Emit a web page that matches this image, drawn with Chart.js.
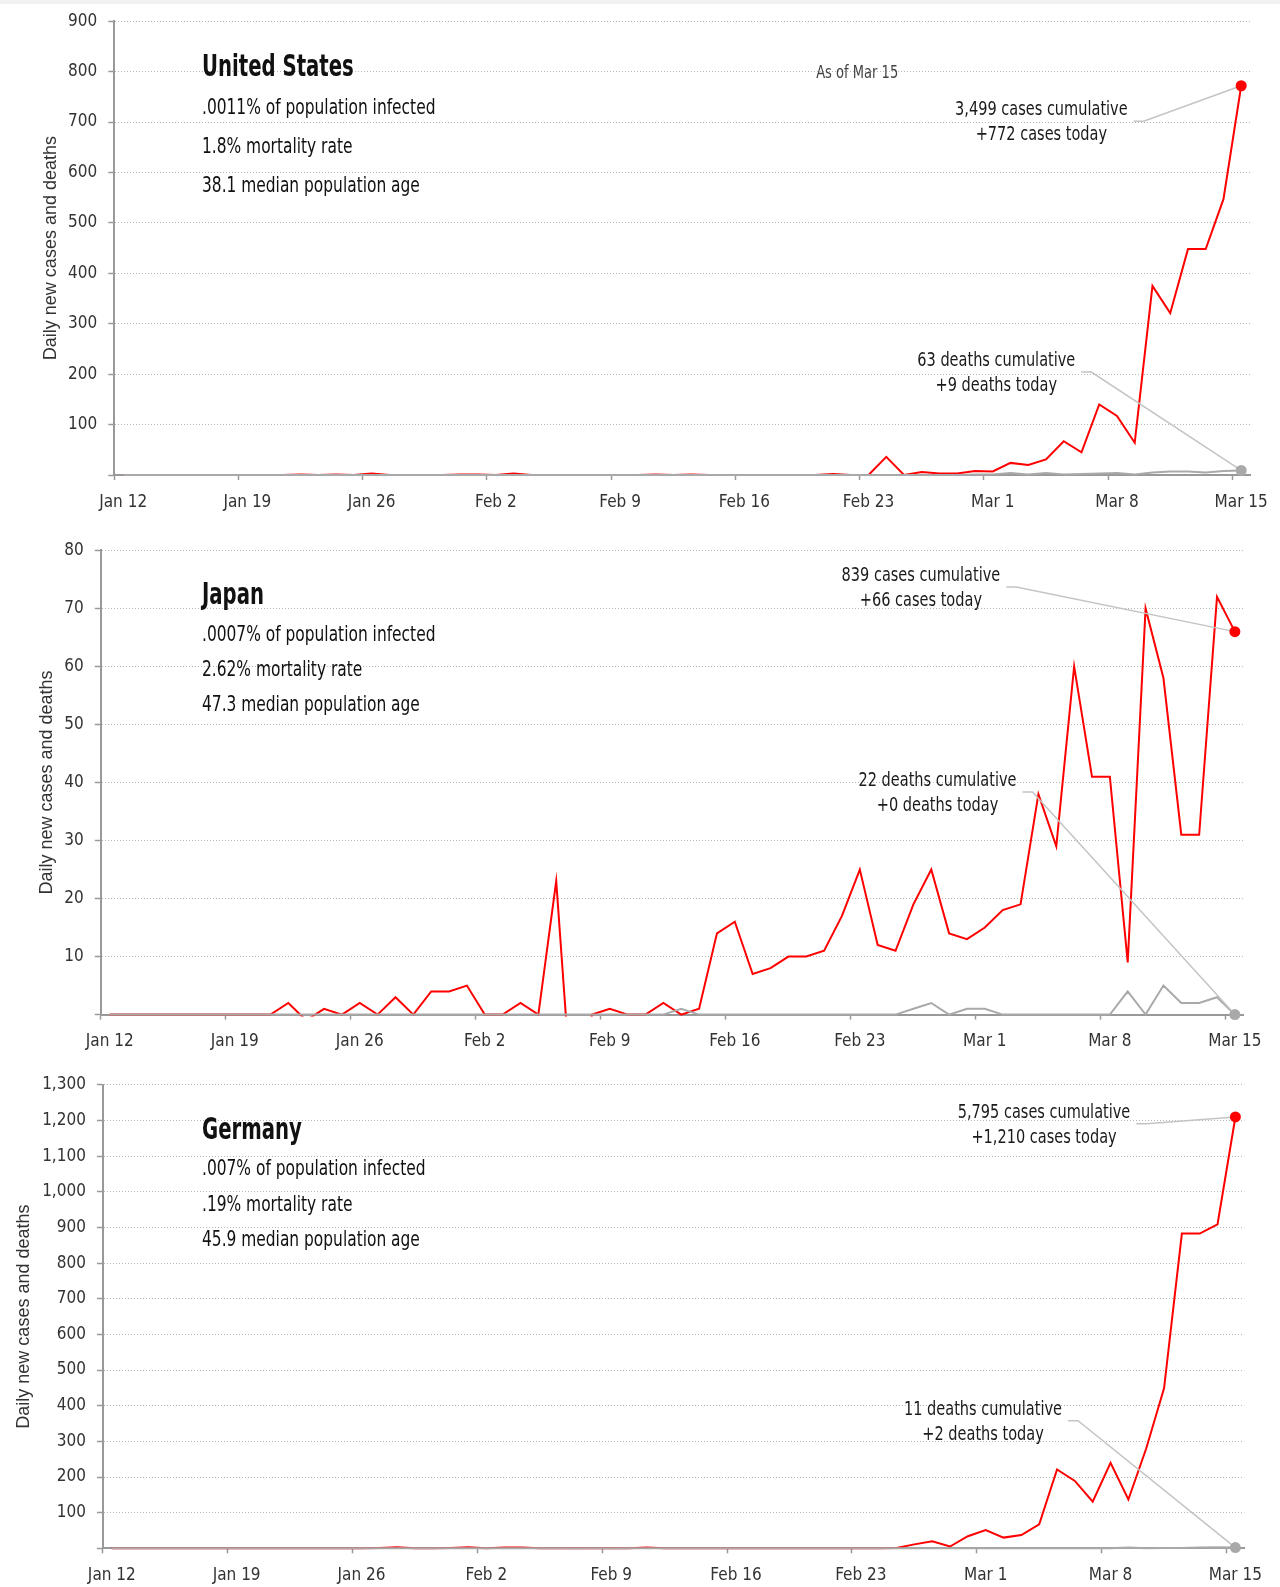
<!DOCTYPE html>
<html>
<head>
<meta charset="utf-8">
<title>Daily new cases and deaths</title>
<script src="https://cdn.jsdelivr.net/npm/chart.js@4.4.1/dist/chart.umd.min.js"></script>
<style>
  body { margin: 0; background: #fff; }
  #page { position: relative; width: 1280px; height: 1587px; overflow: hidden; }
  #band { position: absolute; left: 0; top: 0; width: 1280px; height: 4px; background: #f1f1f1; }
  canvas { position: absolute; left: 0; }
  .txt { position: absolute; white-space: nowrap; color: #111; z-index: 2; transform-origin: 0 50%;
         font-family: "DejaVu Sans Condensed", "Liberation Sans Narrow", "Liberation Sans", sans-serif; }
</style>
</head>
<body>
<div id="page"><div id="band"></div></div>
<script>
var NARROW = '"DejaVu Sans Condensed", "Liberation Sans Narrow", "Liberation Sans", sans-serif';
var RED = '#ff0000';
var GREY = '#a9a9a9';

// one category per day, Jan 12 - Mar 15
var days = [
  'Jan 12', 'Jan 13', 'Jan 14', 'Jan 15', 'Jan 16', 'Jan 17', 'Jan 18',
  'Jan 19', 'Jan 20', 'Jan 21', 'Jan 22', 'Jan 23', 'Jan 24', 'Jan 25',
  'Jan 26', 'Jan 27', 'Jan 28', 'Jan 29', 'Jan 30', 'Jan 31', 'Feb 1',
  'Feb 2', 'Feb 3', 'Feb 4', 'Feb 5', 'Feb 6', 'Feb 7', 'Feb 8',
  'Feb 9', 'Feb 10', 'Feb 11', 'Feb 12', 'Feb 13', 'Feb 14', 'Feb 15',
  'Feb 16', 'Feb 17', 'Feb 18', 'Feb 19', 'Feb 20', 'Feb 21', 'Feb 22',
  'Feb 23', 'Feb 24', 'Feb 25', 'Feb 26', 'Feb 27', 'Feb 28', 'Feb 29',
  'Mar 1', 'Mar 2', 'Mar 3', 'Mar 4', 'Mar 5', 'Mar 6', 'Mar 7',
  'Mar 8', 'Mar 9', 'Mar 10', 'Mar 11', 'Mar 12', 'Mar 13', 'Mar 14',
  'Mar 15'
];
var tickDays = ['Jan 12', 'Jan 19', 'Jan 26', 'Feb 2', 'Feb 9', 'Feb 16', 'Feb 23', 'Mar 1', 'Mar 8', 'Mar 15'];

var usCases = [
  0, 0, 0, 0, 0, 0, 0,
  0, 0, 0, 1, 0, 1, 0,
  3, 0, 0, 0, 0, 1, 1,
  0, 3, 0, 0, 0, 0, 0,
  0, 0, 1, 0, 1, 0, 0,
  0, 0, 0, 0, 0, 2, 0,
  0, 36, 0, 6, 3, 3, 8,
  7, 24, 20, 31, 67, 45, 140,
  117, 64, 375, 321, 448, 448, 547,
  772
];
var usDeaths = [
  0, 0, 0, 0, 0, 0, 0,
  0, 0, 0, 0, 0, 0, 0,
  0, 0, 0, 0, 0, 0, 0,
  0, 0, 0, 0, 0, 0, 0,
  0, 0, 0, 0, 0, 0, 0,
  0, 0, 0, 0, 0, 0, 0,
  0, 0, 0, 0, 0, 0, 1,
  1, 4, 1, 4, 1, 2, 3,
  4, 1, 5, 7, 7, 5, 8,
  9
];
var jpCases = [
  0, 0, 0, 0, 0, 0, 0,
  0, 0, 0, 2, -1, 1, 0,
  2, 0, 3, 0, 4, 4, 5,
  0, 0, 2, 0, 23, -20, 0,
  1, 0, 0, 2, 0, 1, 14,
  16, 7, 8, 10, 10, 11, 17,
  25, 12, 11, 19, 25, 14, 13,
  15, 18, 19, 38, 29, 60, 41,
  41, 9, 70, 58, 31, 31, 72,
  66
];
var jpDeaths = [
  0, 0, 0, 0, 0, 0, 0,
  0, 0, 0, 0, 0, 0, 0,
  0, 0, 0, 0, 0, 0, 0,
  0, 0, 0, 0, 0, 0, 0,
  0, 0, 0, 0, 1, 0, 0,
  0, 0, 0, 0, 0, 0, 0,
  0, 0, 0, 1, 2, 0, 1,
  1, 0, 0, 0, 0, 0, 0,
  0, 4, 0, 5, 2, 2, 3,
  0
];
var deCases = [
  0, 0, 0, 0, 0, 0, 0,
  0, 0, 0, 0, 0, 0, 0,
  0, 1, 3, 0, 0, 1, 3,
  0, 2, 2, 0, 0, 1, 0,
  1, 0, 2, 0, 0, 0, 0,
  0, 0, 0, 0, 0, 0, 0,
  0, 0, 1, 11, 20, 5, 34,
  51, 30, 37, 67, 221, 189, 131,
  240, 137, 280, 449, 883, 883, 909,
  1210
];
var deDeaths = [
  0, 0, 0, 0, 0, 0, 0,
  0, 0, 0, 0, 0, 0, 0,
  0, 0, 0, 0, 0, 0, 0,
  0, 0, 0, 0, 0, 0, 0,
  0, 0, 0, 0, 0, 0, 0,
  0, 0, 0, 0, 0, 0, 0,
  0, 0, 0, 0, 0, 0, 0,
  0, 0, 0, 0, 0, 0, 0,
  0, 2, 0, 1, 1, 2, 3,
  2
];

var usStats = ['.0011% of population infected', '1.8% mortality rate', '38.1 median population age'];
var jpStats = ['.0007% of population infected', '2.62% mortality rate', '47.3 median population age'];
var deStats = ['.007% of population infected', '.19% mortality rate', '45.9 median population age'];

var panels = [
  {
    title: 'United States', stats: usStats, cases: usCases, deaths: usDeaths, max: 900, step: 100,
    top: 0, height: 525, pad: {left: 40, right: 27.5, top: 17.3, bottom: 14}, yWidth: 74.3,
    titleBase: 76, statBase: [114.5, 153.5, 192.5],
    notes: [
      {dataset: 1, color: RED, at: [51.74, 723.6], lines: ['3,499 cases cumulative', '+772 cases today']},
      {dataset: 0, color: GREY, at: [49.2, 226], lines: ['63 deaths cumulative', '+9 deaths today']}
    ],
    labels: [{text: 'As of Mar 15', at: [41.36, 796], size: 17.5}]
  },
  {
    title: 'Japan', stats: jpStats, cases: jpCases, deaths: jpDeaths, max: 80, step: 10,
    top: 525, height: 530, pad: {left: 36, right: 36.2, top: 25.4, bottom: 4.4}, yWidth: 64.8,
    titleBase: 604, statBase: [641.2, 676.5, 712],
    notes: [
      {dataset: 1, color: RED, at: [45.42, 75.6], lines: ['839 cases cumulative', '+66 cases today']},
      {dataset: 0, color: GREY, at: [46.35, 40.25], lines: ['22 deaths cumulative', '+0 deaths today']}
    ],
    labels: []
  },
  {
    title: 'Germany', stats: deStats, cases: deCases, deaths: deDeaths, max: 1300, step: 100,
    top: 1055, height: 532, pad: {left: 13.5, right: 35.7, top: 29.9, bottom: 2.7}, yWidth: 89.4,
    titleBase: 1139.7, statBase: [1176, 1211.3, 1246.3],
    notes: [
      {dataset: 1, color: RED, at: [52.27, 1221.9], lines: ['5,795 cases cumulative', '+1,210 cases today']},
      {dataset: 0, color: GREY, at: [48.85, 389], lines: ['11 deaths cumulative', '+2 deaths today']}
    ],
    labels: []
  }
];

// squeezed text, to get the condensed look of the original face
function narrowText(ctx, s, x, y, k) {
  ctx.save();
  ctx.translate(x, y);
  ctx.scale(k, 1);
  ctx.fillText(s, 0, 0);
  ctx.restore();
}

// annotation texts, leader lines and end dots
var notesPlugin = {
  id: 'notes',
  afterDatasetsDraw: function (chart, args, opts) {
    var ctx = chart.ctx;
    var xs = chart.scales.x, ys = chart.scales.y;
    var k = 0.85;
    ctx.save();
    ctx.textAlign = 'center';
    ctx.textBaseline = 'middle';
    (opts.labels || []).forEach(function (lb) {
      ctx.font = lb.size + 'px ' + NARROW;
      ctx.fillStyle = '#444';
      narrowText(ctx, lb.text, xs.getPixelForValue(lb.at[0]), ys.getPixelForValue(lb.at[1]), 0.83);
    });
    (opts.notes || []).forEach(function (n) {
      var meta = chart.getDatasetMeta(n.dataset);
      var end = meta.data[meta.data.length - 1];
      var cx = xs.getPixelForValue(n.at[0]);
      var cy = ys.getPixelForValue(n.at[1]);
      ctx.font = '19px ' + NARROW;
      ctx.fillStyle = '#1a1a1a';
      n.lines.forEach(function (s, i) { narrowText(ctx, s, cx, cy + i * 25, k); });
      var sx = cx + ctx.measureText(n.lines[0]).width * k / 2 + 6;
      var sy = cy + 11;
      ctx.strokeStyle = '#c4c4c4';
      ctx.lineWidth = 1.5;
      ctx.beginPath();
      ctx.moveTo(sx, sy);
      ctx.lineTo(sx + 10, sy);
      ctx.lineTo(end.x, end.y);
      ctx.stroke();
      ctx.fillStyle = n.color;
      ctx.beginPath();
      ctx.arc(end.x, end.y, 5.5, 0, Math.PI * 2);
      ctx.fill();
    });
    ctx.restore();
  }
};

Chart.defaults.font.family = NARROW;
Chart.defaults.color = '#333';

var page = document.getElementById('page');

function addText(str, left, baseline, size, weight, k) {
  var d = document.createElement('div');
  d.className = 'txt';
  d.textContent = str;
  d.style.left = left + 'px';
  d.style.top = (baseline - 0.846 * size) + 'px';
  d.style.fontSize = size + 'px';
  d.style.lineHeight = size + 'px';
  d.style.fontWeight = weight;
  d.style.transform = 'scaleX(' + k + ')';
  page.appendChild(d);
}

function buildPanel(p) {
  var canvas = document.createElement('canvas');
  canvas.width = 1280;
  canvas.height = p.height;
  canvas.style.top = p.top + 'px';
  page.appendChild(canvas);

  new Chart(canvas, {
    type: 'line',
    data: {
      labels: days,
      datasets: [
        {label: 'Deaths', data: p.deaths, borderColor: GREY, borderWidth: 2, pointRadius: 0, clip: 2},
        {label: 'Cases', data: p.cases, borderColor: RED, borderWidth: 2, pointRadius: 0, clip: 2}
      ]
    },
    options: {
      responsive: false,
      animation: false,
      events: [],
      layout: {padding: p.pad},
      elements: {line: {tension: 0}},
      plugins: {
        legend: {display: false},
        tooltip: {enabled: false},
        notes: {notes: p.notes, labels: p.labels}
      },
      scales: {
        x: {
          type: 'category',
          offset: true,
          grid: {
            offset: true,
            drawOnChartArea: false,
            tickLength: 5,
            tickWidth: 1.5,
            tickColor: function (c) { return c.index % 7 === 0 ? '#999' : 'rgba(0,0,0,0)'; }
          },
          border: {color: '#999', width: 2},
          ticks: {
            autoSkip: false, maxRotation: 0, minRotation: 0, padding: 12,
            color: '#333', font: {size: 17},
            callback: function (v, i) { return tickDays.indexOf(days[i]) >= 0 ? days[i] : ''; }
          },
          afterFit: function (s) { s.height = 36; }
        },
        y: {
          min: 0,
          max: p.max,
          ticks: {
            stepSize: p.step, padding: 11, color: '#333', font: {size: 17},
            callback: function (v) { return v === 0 ? '' : v.toLocaleString('en-US'); }
          },
          grid: {color: '#b5b5b5', lineWidth: 1, tickLength: 6, tickWidth: 1.5, tickColor: '#999'},
          border: {color: '#999', width: 2, dash: [1, 2]},
          title: {
            display: true, text: 'Daily new cases and deaths', color: '#333', padding: 0,
            font: {family: '"Liberation Sans", Arial, sans-serif', size: 18}
          },
          afterFit: function (s) { s.width = p.yWidth; }
        }
      }
    },
    plugins: [notesPlugin]
  });

  addText(p.title, 202, p.titleBase, 31, 'bold', 0.706);
  p.stats.forEach(function (s, i) { addText(s, 202, p.statBase[i], 22, 'normal', 0.78); });
}

panels.forEach(buildPanel);
</script>
</body>
</html>
